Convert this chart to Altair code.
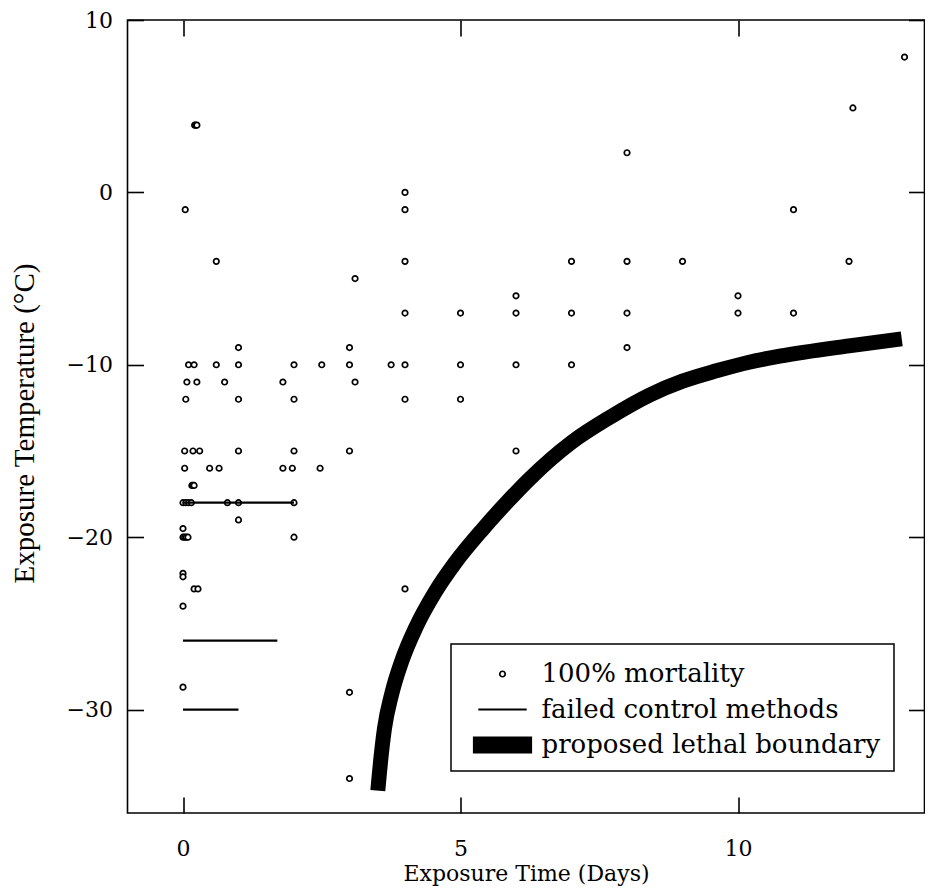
import altair as alt
import pandas as pd

# ---- data ----
pt_days = [0.21, 0.23, 0.25, 0.04, 0.6, 4, 4, 4, 3.1, 8, 7, 8, 9, 6, 13, 12.07, 11, 12,
           10, 10, 11, 4, 5, 6, 7, 8, 8, 4, 5, 6, 7, 4, 5, 6, 1, 3,
           0.1, 0.2, 0.6, 1, 2, 2.5, 3, 3.75,
           0.07, 0.25, 0.75, 1.8, 3.1,
           0.05, 1, 2,
           0.03, 0.18, 0.3, 1, 2, 3,
           0.03, 0.48, 0.65, 1.8, 1.97, 2.47,
           0.16, 0.18, 0.2,
           0, 0.05, 0.1, 0.15, 0.8, 1, 2,
           1, 0, 0, 0.03, 0.06, 0.09, 2, 0, 0, 0.2, 0.27, 0, 0, 4, 3, 3]
pt_temp = [3.9, 3.9, 3.9, -1, -4, 0, -1, -4, -5, 2.3, -4, -4, -4, -6, 7.85, 4.9, -1, -4,
           -6, -7, -7, -7, -7, -7, -7, -7, -9, -10, -10, -10, -10, -12, -12, -15, -9, -9,
           -10, -10, -10, -10, -10, -10, -10, -10,
           -11, -11, -11, -11, -11,
           -12, -12, -12,
           -15, -15, -15, -15, -15, -15,
           -16, -16, -16, -16, -16, -16,
           -17, -17, -17,
           -18, -18, -18, -18, -18, -18, -18,
           -19, -19.5, -20, -20, -20, -20, -20, -22.1, -22.3, -23, -23, -24, -28.7, -23, -29, -34]

ctrl_start = [0, 0, 0]
ctrl_end = [2.0, 1.7, 1.0]
ctrl_temp = [-18, -26, -30]

curve_days = [3.51, 3.53, 3.56, 3.63, 3.76, 3.94, 4.2, 4.54, 4.9, 5.41, 5.83, 6.25, 7.0,
              7.69, 8.41, 9.0, 9.61, 10.2, 10.75, 12.0, 12.95]
curve_temp = [-34.7, -34.0, -33.0, -31.1, -29.1, -27.2, -25.2, -23.2, -21.5, -19.5, -18.0,
              -16.6, -14.5, -13.05, -11.75, -10.95, -10.35, -9.85, -9.5, -8.9, -8.5]

series_names = ["100% mortality", "failed control methods", "proposed lethal boundary"]
x_ticks = [0, 5, 10]
y_ticks = [10, 0, -10, -20, -30]
x_domain = [-1, 13.36]
y_domain = [-36, 10]

FONT = "DejaVu Serif"

pts = pd.DataFrame({"days": pt_days, "temp": pt_temp, "series": series_names[0]})
ctrl = pd.DataFrame({"x0": ctrl_start, "x1": ctrl_end, "temp": ctrl_temp})
curve = pd.DataFrame({"days": curve_days, "temp": curve_temp})

xs = alt.Scale(domain=x_domain, nice=False, zero=False)
ys = alt.Scale(domain=y_domain, nice=False, zero=False)

tick_common = dict(offset=-16, tickSize=16, domain=False, grid=False,
                   tickColor="black", tickWidth=1.6)

def series_scale(rng):
    return alt.Scale(domain=series_names, range=rng)

LEG = alt.Legend(title=" ")

points = alt.Chart(pts).mark_point(opacity=1).encode(
    x=alt.X("days:Q", scale=xs,
            axis=alt.Axis(values=x_ticks, title="Exposure Time (Days)",
                          labelPadding=25, titlePadding=4, **tick_common)),
    y=alt.Y("temp:Q", scale=ys,
            axis=alt.Axis(values=y_ticks, title="Exposure Temperature (°C)",
                          labelPadding=15, titlePadding=27, titleY=403,
                          titleFont="Liberation Serif", titleFontSize=29,
                          **tick_common)),
    shape=alt.Shape("series:N", legend=LEG,
                    scale=series_scale(["circle", "M-3.3,0H3.3",
                                        "M-2.85,-0.75H2.85V0.75H-2.85Z"])),
    size=alt.Size("series:N", legend=LEG, scale=series_scale([30, 400, 400])),
    fill=alt.Fill("series:N", legend=LEG, scale=series_scale(["white", "black", "black"])),
    stroke=alt.Stroke("series:N", legend=LEG, scale=series_scale(["black", "black", "black"])),
    strokeWidth=alt.StrokeWidth("series:N", legend=LEG, scale=series_scale([1.7, 2.2, 0.5])),
)

controls = alt.Chart(ctrl).mark_rule(color="black", strokeWidth=2.2).encode(
    x=alt.X("x0:Q", scale=xs,
            axis=alt.Axis(orient="top", values=x_ticks, labels=False, title=None, **tick_common)),
    x2="x1:Q",
    y=alt.Y("temp:Q", scale=ys,
            axis=alt.Axis(orient="right", values=y_ticks, labels=False, title=None, **tick_common)),
)

boundary = alt.Chart(curve).mark_line(color="black", strokeWidth=15, strokeCap="butt",
                                      interpolate="monotone").encode(
    x=alt.X("days:Q", scale=xs, axis=None),
    y=alt.Y("temp:Q", scale=ys, axis=None),
    order="days:Q",
)

chart = alt.layer(points, controls, boundary).resolve_scale(
    x="independent", y="independent"
).properties(
    width=797, height=793,
    autosize=alt.AutoSizeParams(type="none"),
    padding={"left": 119.5, "top": 12, "right": 0, "bottom": 75},
).configure_view(
    stroke="black", strokeWidth=1.6
).configure_axis(
    labelFont=FONT, labelFontSize=22, labelColor="black",
    titleFont=FONT, titleFontSize=22, titleColor="black", titleFontWeight="normal",
).configure_legend(
    orient="none", legendX=323.5, legendY=624,
    strokeColor="black", strokeWidth=1.5, fillColor="white",
    padding=13, labelFont=FONT, labelFontSize=26, labelColor="black", labelLimit=500,
    titleFontSize=1, titlePadding=3,
    symbolOffset=25.5, labelOffset=26, rowPadding=9.5,
)

chart.save("out.html", embed_options={"renderer": "svg", "actions": False})
